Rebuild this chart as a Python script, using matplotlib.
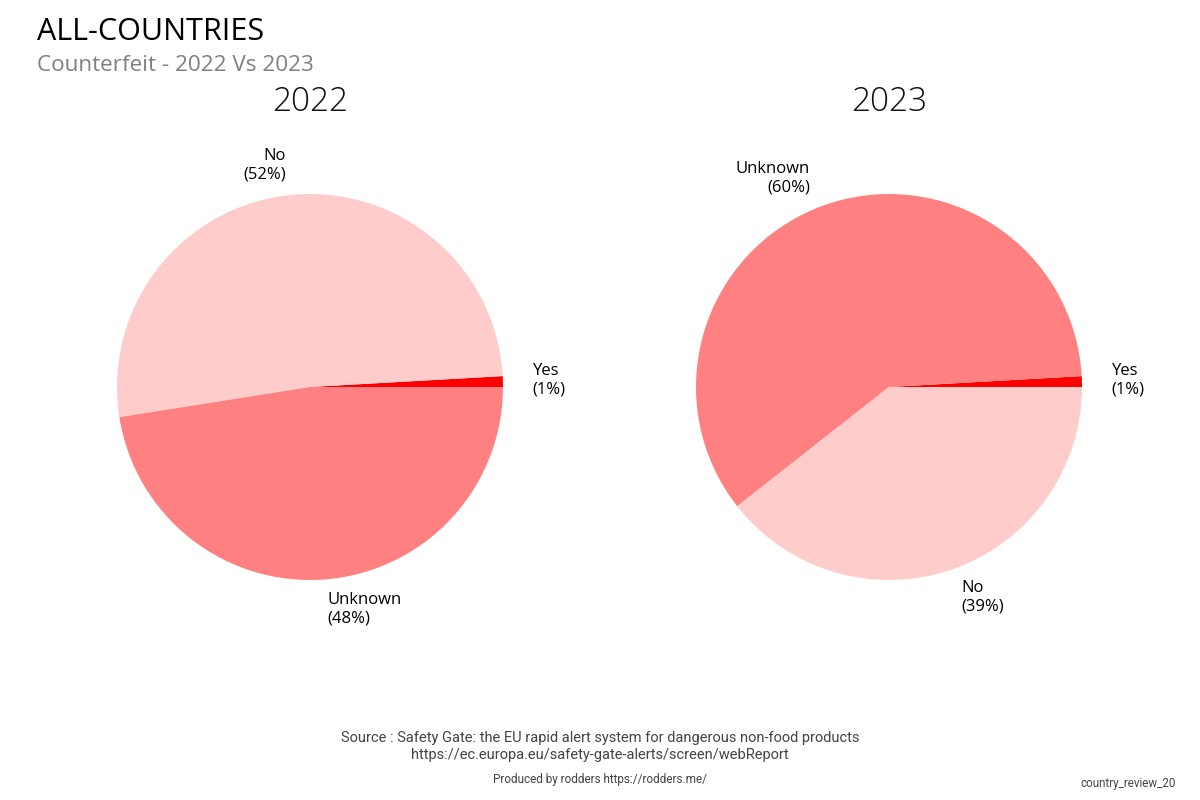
import matplotlib
matplotlib.use("Agg")
import matplotlib.pyplot as plt

years = ["2022", "2023"]
labels_2022 = ["Yes", "No", "Unknown"]
values_2022 = [0.9, 51.6, 47.5]
labels_2023 = ["Yes", "Unknown", "No"]
values_2023 = [0.9, 59.7, 39.4]

color_map = {"Yes": "#FF0000", "Unknown": "#FF8080", "No": "#FFCCCC"}

title = "ALL-COUNTRIES"
subtitle = "Counterfeit - 2022 Vs 2023"
source = ("Source : Safety Gate: the EU rapid alert system for dangerous non-food products\n"
          "https://ec.europa.eu/safety-gate-alerts/screen/webReport")
produced = "Produced by rodders https://rodders.me/"
tag = "country_review_20"

plt.rcParams['font.family'] = ['Open Sans', 'DejaVu Sans']

fig = plt.figure(figsize=(12, 8), dpi=100)
W, H = 1200, 800
R = 193
centers = [(310, 387), (889, 387)]
data = [(labels_2022, values_2022), (labels_2023, values_2023)]

for (cx, cy), (labs, vals), yr in zip(centers, data, years):
    ax = fig.add_axes([(cx - R) / W, 1 - (cy + R) / H, 2 * R / W, 2 * R / H])
    total = sum(vals)
    text_labels = [f"{l}\n({v / total * 100:.0f}%)" for l, v in zip(labs, vals)]
    wedges, texts = ax.pie(vals, labels=text_labels, colors=[color_map[l] for l in labs],
                           startangle=0, counterclock=True, labeldistance=1.155,
                           textprops=dict(fontsize=12, color="black"))
    ax.set_xlim(-1, 1)
    ax.set_ylim(-1, 1)
    ax.set_aspect("equal")
    fig.text(cx / W, 1 - 111 / H, yr, ha="center", va="baseline", fontsize=24,
             fontweight="light", color="#111111")

fig.text(37 / W, 1 - 40 / H, title, ha="left", va="baseline", fontsize=22, color="black")
fig.text(37 / W, 1 - 71 / H, subtitle, ha="left", va="baseline", fontsize=16.2,
         fontweight="medium", color="#808080")
fig.text(0.5, 1 - 759 / H, source, ha="center", va="baseline", fontsize=10.5,
         color="#444444", family=["Roboto", "DejaVu Sans"], linespacing=1.25)
fig.text(0.5, 1 - 783 / H, produced, ha="center", va="baseline", fontsize=8.5,
         color="#444444", family=["Roboto", "DejaVu Sans"])
fig.text(1176 / W, 1 - 787 / H, tag, ha="right", va="baseline", fontsize=8.4,
         color="#444444", family=["Roboto", "DejaVu Sans"])

fig.savefig("out.png", dpi=100)
